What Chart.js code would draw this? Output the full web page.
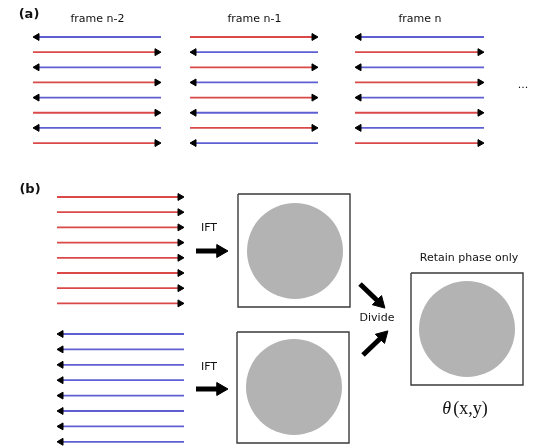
<!DOCTYPE html>
<html>
<head>
<meta charset="utf-8">
<script src="https://cdn.jsdelivr.net/npm/chart.js@4.4.1/dist/chart.umd.min.js"></script>
<style>
  html, body { margin: 0; padding: 0; background: #fff; }
  #wrap { width: 538px; height: 446px; }
</style>
</head>
<body>
<div id="wrap"><canvas id="c" width="538" height="446"></canvas></div>
<script>
// scan directions per row, read top to bottom
const frameTitles = ['frame n-2', 'frame n-1', 'frame n'];
const frameN2Dirs = ['left', 'right', 'left', 'right', 'left', 'right', 'left', 'right'];
const frameN1Dirs = ['right', 'left', 'right', 'left', 'right', 'left', 'right', 'left'];
const frameNDirs = ['left', 'right', 'left', 'right', 'left', 'right', 'left', 'right'];
const forwardScanDirs = ['right', 'right', 'right', 'right', 'right', 'right', 'right', 'right'];
const backwardScanDirs = ['left', 'left', 'left', 'left', 'left', 'left', 'left', 'left'];
const stepLabels = ['IFT', 'IFT', 'Divide', 'Retain phase only'];
const panelLabels = ['(a)', '(b)'];

// layout (canvas pixels, x/y scales are 1:1 with the canvas)
const RED = '#da4848';
const BLUE = '#5f5fd4';
const frameSpans = [[33, 161], [190, 318], [355, 484]];
const frameRows = { top: 37, step: 15.15 };
const bSpan = [57, 184];
const forwardRows = { top: 197, step: 15.2 };
const backwardRows = { top: 334, step: 15.4 };
const HEAD = 4;

const datasets = [];

function scanLine(x1, x2, y, dir) {
    const left = dir === 'left';
    const pts = left
        ? [{ x: x1 + HEAD, y }, { x: x2, y }]
        : [{ x: x1, y }, { x: x2 - HEAD, y }];
    datasets.push({
        type: 'line',
        data: pts,
        borderColor: left ? BLUE : RED,
        borderWidth: 1.8,
        pointStyle: 'triangle',
        pointRadius: left ? [HEAD, 0] : [0, HEAD],
        pointRotation: left ? -90 : 90,
        pointBackgroundColor: '#000',
        pointBorderColor: '#000',
        pointBorderWidth: 1
    });
}

function scanBlock(span, rows, dirs) {
    dirs.forEach((d, i) => scanLine(span[0], span[1], rows.top + rows.step * i, d));
}

scanBlock(frameSpans[0], frameRows, frameN2Dirs);
scanBlock(frameSpans[1], frameRows, frameN1Dirs);
scanBlock(frameSpans[2], frameRows, frameNDirs);
scanBlock(bSpan, forwardRows, forwardScanDirs);
scanBlock(bSpan, backwardRows, backwardScanDirs);

// thick black arrows
function bigArrow(x1, y1, x2, y2, rot) {
    const r = 7.5;
    const len = Math.hypot(x2 - x1, y2 - y1);
    const ux = (x2 - x1) / len, uy = (y2 - y1) / len;
    datasets.push({
        type: 'line',
        data: [{ x: x1, y: y1 }, { x: x2 - ux * r, y: y2 - uy * r }],
        borderColor: '#000',
        borderWidth: 5,
        borderCapStyle: 'butt',
        pointStyle: 'triangle',
        pointRadius: [0, r],
        pointRotation: rot,
        pointBackgroundColor: '#000',
        pointBorderColor: '#000',
        pointBorderWidth: 1
    });
}
bigArrow(196, 251, 228, 251, 90);
bigArrow(196, 389, 228, 389, 90);
bigArrow(360, 284, 385, 308, 135);
bigArrow(363, 355, 388, 331, 45);

// image boxes with a grey disc
const boxes = [
    { x1: 238, x2: 350, y1: 194, y2: 307, cx: 295, cy: 251 },
    { x1: 237, x2: 349, y1: 332, y2: 443, cx: 294, cy: 387 },
    { x1: 411, x2: 523, y1: 273, y2: 385, cx: 467, cy: 329 }
];
boxes.forEach(b => {
    datasets.push({
        type: 'scatter',
        data: [{ x: b.cx, y: b.cy }],
        pointRadius: 48,
        pointBackgroundColor: '#b3b3b3',
        pointBorderWidth: 0
    });
    datasets.push({
        type: 'line',
        data: [
            { x: b.x1, y: b.y1 }, { x: b.x2, y: b.y1 },
            { x: b.x2, y: b.y2 }, { x: b.x1, y: b.y2 }, { x: b.x1, y: b.y1 }
        ],
        borderColor: '#3a3a3a',
        borderWidth: 1.4,
        pointRadius: 0,
        tension: 0
    });
});

const textPlugin = {
    id: 'diagramText',
    afterDatasetsDraw(chart) {
        const { ctx, scales: { x, y } } = chart;
        const put = (str, px, py, font, align = 'center') => {
            ctx.font = font;
            ctx.textAlign = align;
            ctx.textBaseline = 'middle';
            ctx.fillStyle = '#111';
            ctx.fillText(str, x.getPixelForValue(px), y.getPixelForValue(py));
        };
        const sans = '"DejaVu Sans", Verdana, sans-serif';
        ctx.save();
        put(panelLabels[0], 29, 15, 'bold 13px ' + sans);
        put(panelLabels[1], 30, 190, 'bold 13px ' + sans);
        frameTitles.forEach((t, i) => {
            const s = frameSpans[i];
            put(t, (s[0] + s[1]) / 2 + 0.5, 19, '11px ' + sans);
        });
        put('...', 523, 85, '11px ' + sans);
        put(stepLabels[0], 209, 228, '11px ' + sans);
        put(stepLabels[1], 209, 367, '11px ' + sans);
        put(stepLabels[2], 377, 318, '11px ' + sans);
        put(stepLabels[3], 469, 258, '11px ' + sans);
        // theta(x,y)
        const serif = '"Liberation Serif", "DejaVu Serif", serif';
        ctx.font = 'italic 18px ' + serif;
        const wT = ctx.measureText('\u03b8').width;
        ctx.font = '18px ' + serif;
        const wR = ctx.measureText('(x,y)').width;
        const start = 465 - (wT + wR + 2) / 2;
        put('\u03b8', start, 409, 'italic 18px ' + serif, 'left');
        put('(x,y)', start + wT + 2, 409, '18px ' + serif, 'left');
        ctx.restore();
    }
};

new Chart(document.getElementById('c').getContext('2d'), {
    type: 'scatter',
    data: { datasets },
    options: {
        responsive: false,
        animation: false,
        events: [],
        layout: { padding: 0, autoPadding: false },
        plugins: { legend: { display: false }, tooltip: { enabled: false } },
        scales: {
            x: { type: 'linear', min: 0, max: 538, display: false },
            y: { type: 'linear', min: 0, max: 446, reverse: true, display: false }
        }
    },
    plugins: [textPlugin]
});
</script>
</body>
</html>
